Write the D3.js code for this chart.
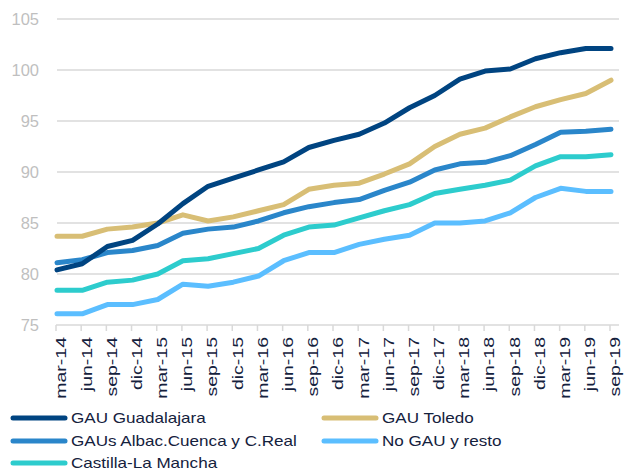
<!DOCTYPE html>
<html lang="es">

<head>
    <meta charset="utf-8">
    <title>GAU</title>
    <script type="text/javascript" src="https://cdn.jsdelivr.net/npm/d3@7"></script>
    <style>
        body { margin: 0; background: #fff; }
        text { font-family: "Liberation Sans", Arial, sans-serif; }
    </style>
</head>

<body>
    <script type="text/javascript">
        //Chart data
        var quarters = ["mar-14", "jun-14", "sep-14", "dic-14", "mar-15", "jun-15", "sep-15", "dic-15",
            "mar-16", "jun-16", "sep-16", "dic-16", "mar-17", "jun-17", "sep-17", "dic-17",
            "mar-18", "jun-18", "sep-18", "dic-18", "mar-19", "jun-19", "sep-19"];

        var guadalajara = [80.4, 81.0, 82.7, 83.3, 84.9, 86.9, 88.6, 89.4, 90.2, 91.0, 92.4, 93.1,
            93.7, 94.8, 96.3, 97.5, 99.1, 99.9, 100.1, 101.1, 101.7, 102.1, 102.1];
        var toledo = [83.7, 83.7, 84.4, 84.6, 85.0, 85.8, 85.2, 85.6, 86.2, 86.8, 88.3, 88.7,
            88.9, 89.8, 90.8, 92.5, 93.7, 94.3, 95.4, 96.4, 97.1, 97.7, 99.0];
        var albacete = [81.1, 81.4, 82.1, 82.3, 82.8, 84.0, 84.4, 84.6, 85.2, 86.0, 86.6, 87.0,
            87.3, 88.2, 89.0, 90.2, 90.8, 90.95, 91.6, 92.7, 93.9, 94.0, 94.2];
        var noGau = [76.1, 76.1, 77.0, 77.0, 77.5, 79.0, 78.8, 79.2, 79.8, 81.3, 82.1, 82.1,
            82.9, 83.4, 83.8, 85.0, 85.0, 85.2, 86.0, 87.5, 88.4, 88.1, 88.1];
        var clm = [78.4, 78.4, 79.2, 79.4, 80.0, 81.3, 81.5, 82.0, 82.5, 83.8, 84.6, 84.8,
            85.5, 86.2, 86.8, 87.9, 88.3, 88.7, 89.2, 90.6, 91.5, 91.5, 91.7];

        var yTicks = [75, 80, 85, 90, 95, 100, 105];

        var series = [
            { name: "GAU Guadalajara", values: guadalajara, color: "#004481" },
            { name: "GAU Toledo", values: toledo, color: "#D8BE75" },
            { name: "GAUs Albac.Cuenca y C.Real", values: albacete, color: "#2A86CA" },
            { name: "No GAU y resto", values: noGau, color: "#5BBEFF" },
            { name: "Castilla-La Mancha", values: clm, color: "#2DCCCD" }
        ];
        // draw order: first series ends up on top
        var drawOrder = [4, 3, 2, 1, 0];

        var w = 624, h = 474;

        var svg = d3.select("body").append("svg")
            .attr("width", w).attr("height", h);

        var x = d3.scalePoint().domain(quarters).range([57, 611]);
        var y = d3.scaleLinear().domain([75, 105]).range([325, 19]);

        //Gridlines
        svg.append("g").selectAll("line")
            .data(yTicks.slice(1))
            .enter().append("line")
            .attr("x1", 57).attr("x2", 619)
            .attr("y1", d => y(d)).attr("y2", d => y(d))
            .style("stroke", "#d9d9d9").style("stroke-width", 1.5);

        //Y labels
        svg.append("g").selectAll("text")
            .data(yTicks)
            .enter().append("text")
            .attr("x", 39).attr("y", d => y(d))
            .attr("dy", "0.36em")
            .attr("text-anchor", "end")
            .style("font-size", "16.5px")
            .style("fill", "#bfbfbf")
            .text(d => d);

        //X axis line and ticks
        svg.append("line")
            .attr("x1", 56).attr("x2", 619)
            .attr("y1", 325).attr("y2", 325)
            .style("stroke", "#d9d9d9").style("stroke-width", 1.5);

        svg.append("g").selectAll("line")
            .data(quarters)
            .enter().append("line")
            .attr("x1", d => x(d) - 1).attr("x2", d => x(d) - 1)
            .attr("y1", 325).attr("y2", 331)
            .style("stroke", "#d9d9d9").style("stroke-width", 1.5);

        //X labels, rotated and a bit stretched like the original
        svg.append("g").selectAll("text")
            .data(quarters)
            .enter().append("text")
            .attr("transform", d => "translate(" + (x(d) + 4) + ",337) rotate(-90) scale(1.3,1)")
            .attr("dy", "0.36em")
            .attr("text-anchor", "end")
            .style("font-size", "15px")
            .style("fill", "#14213d")
            .text(d => d);

        //Lines
        var line = d3.line()
            .x((d, i) => x(quarters[i]))
            .y(d => y(d));

        svg.append("g").selectAll("path")
            .data(drawOrder.map(i => series[i]))
            .enter().append("path")
            .attr("d", d => line(d.values))
            .style("fill", "none")
            .style("stroke", d => d.color)
            .style("stroke-width", 5)
            .style("stroke-linejoin", "round")
            .style("stroke-linecap", "round");

        //Legend
        var legendPos = [[13, 418], [324, 418], [13, 441], [324, 441], [13, 463]];
        var legend = svg.append("g").selectAll("g")
            .data(series)
            .enter().append("g")
            .attr("transform", (d, i) => "translate(" + legendPos[i][0] + "," + legendPos[i][1] + ")");

        legend.append("line")
            .attr("x1", 0).attr("x2", 52)
            .style("stroke", d => d.color)
            .style("stroke-width", 5)
            .style("stroke-linecap", "round");

        legend.append("text")
            .attr("transform", "translate(58,0) scale(1.22,1)")
            .attr("dy", "0.36em")
            .style("font-size", "14px")
            .style("fill", "#14213d")
            .text(d => d.name);
    </script>
</body>

</html>
